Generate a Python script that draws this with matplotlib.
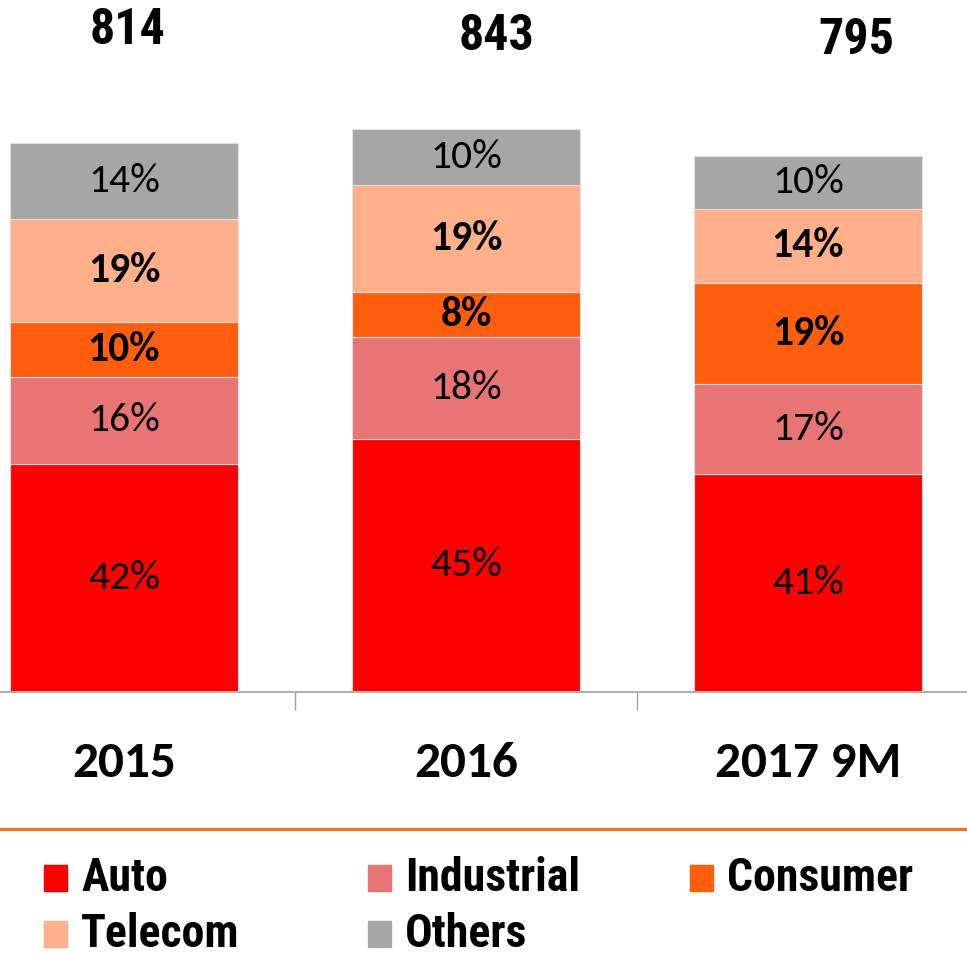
import matplotlib
matplotlib.use('Agg')
import matplotlib.pyplot as plt
from matplotlib.patches import Rectangle
from matplotlib.lines import Line2D
from matplotlib import font_manager


# Chart data
years = ['2015', '2016', '2017 9M']
totals = [814, 843, 795]
segments = ['Auto', 'Industrial', 'Consumer', 'Telecom', 'Others']
auto = [42, 45, 41]
industrial = [16, 18, 17]
consumer = [10, 8, 19]
telecom = [19, 19, 14]
others = [14, 10, 10]
colors = ['#FF0000', '#E97474', '#FF5F0D', '#FFB08A', '#A6A6A6']


def pick_font(names, weight=400):
    have = {(f.name, f.weight) for f in font_manager.fontManager.ttflist}
    for n in names:
        if (n, weight) in have:
            return n
    return 'DejaVu Sans'


narrow = pick_font(['Liberation Sans Narrow', 'Roboto Condensed', 'Archivo Narrow',
                    'PT Sans Narrow', 'Fira Sans Condensed', 'Barlow Condensed'], 700)
calib = pick_font(['Carlito', 'Lato'], 700)

fig = plt.figure(figsize=(9.67, 9.6), dpi=100)
ax = fig.add_axes([0, 1 - 692 / 960, 1, 692 / 960])

shares = [auto, industrial, consumer, telecom, others]
x = list(range(len(years)))
bottoms = [0.0] * len(years)
for name, share, color in zip(segments, shares, colors):
    vals = [t * s / 100 for t, s in zip(totals, share)]
    ax.bar(x, vals, width=0.667, bottom=bottoms, color=color,
           edgecolor='#E0E0E0', linewidth=0.8)
    bold = name in ('Consumer', 'Telecom')
    for i, (v, s) in enumerate(zip(vals, share)):
        ax.text(i, bottoms[i] + v / 2, f'{s}%', ha='center', va='center',
                fontsize=30, family=calib,
                fontweight='bold' if bold else 'normal', color='black')
    bottoms = [b + v for b, v in zip(bottoms, vals)]

# totals above the bars
total_dx = [0.01, 0.09, 0.14]
total_y = [990, 982, 975]
for i, t in enumerate(totals):
    ax.text(i + total_dx[i], total_y[i], str(t), ha='center', va='center',
            fontsize=36, family=narrow, fontweight='bold')

ax.set_xlim(-124 / 342, 843 / 342)
ax.set_ylim(0, 692 / 0.668)
for s in ['top', 'right', 'left']:
    ax.spines[s].set_visible(False)
ax.spines['bottom'].set_color('#B0B0B0')
ax.spines['bottom'].set_linewidth(1.5)
ax.set_yticks([])
ax.set_xticks(x)
ax.set_xticklabels(years, fontsize=37, family=calib, fontweight='bold')
ax.tick_params(axis='x', which='major', length=0, pad=35)
ax.set_xticks([0.5, 1.5], minor=True)
ax.tick_params(axis='x', which='minor', length=13, width=1, color='#A0A0A0')

# orange separator line
fig.add_artist(Line2D([0, 1], [1 - 829 / 960] * 2, color='#F47020',
                      linewidth=2.2, transform=fig.transFigure))

# legend drawn by hand
leg_x = [44, 368, 690, 44, 368]
leg_y = [878, 878, 878, 934, 934]
for name, color, lx, ly in zip(segments, colors, leg_x, leg_y):
    fig.add_artist(Rectangle((lx / 967, 1 - (ly + 13) / 960), 23 / 967, 26 / 960,
                             color=color, transform=fig.transFigure))
    fig.text((lx + 37) / 967, 1 - ly / 960, name, ha='left', va='center',
             fontsize=33, family=narrow, fontweight='bold')

fig.savefig('out.png', dpi=100)
